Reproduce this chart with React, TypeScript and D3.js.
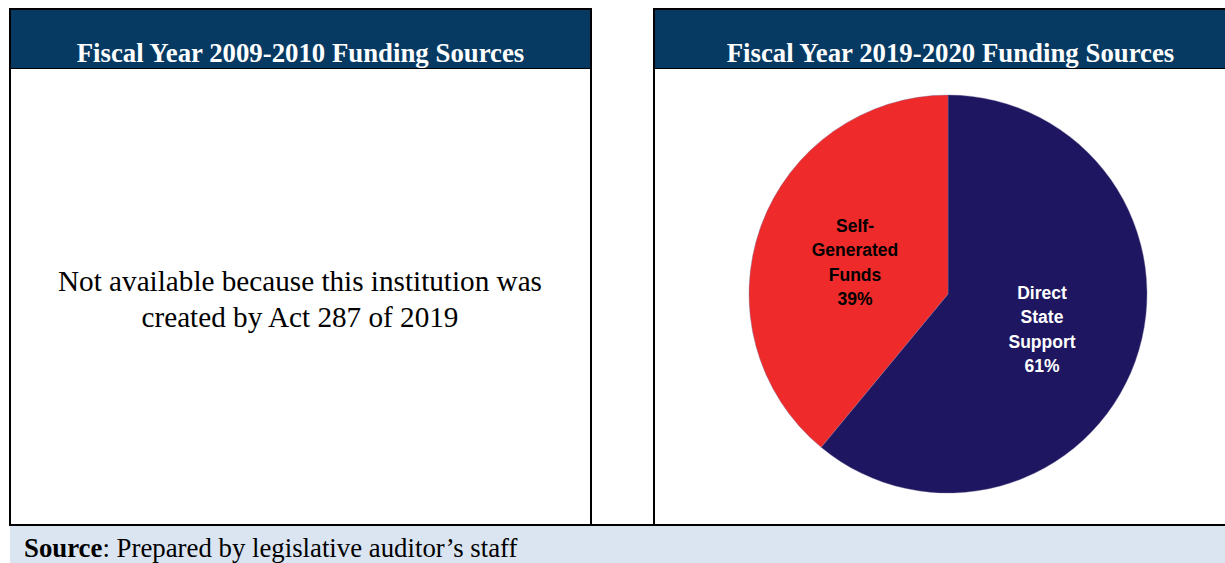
import React from "react";
import * as d3 from "d3";

const titles = ["Fiscal Year 2009-2010 Funding Sources", "Fiscal Year 2019-2020 Funding Sources"];
const unavailableLines = ["Not available because this institution was", "created by Act 287 of 2019"];
const categories = ["Direct State Support", "Self-Generated Funds"];
const values = [61, 39];
const labelLines = [["Direct", "State", "Support", "61%"], ["Self-", "Generated", "Funds", "39%"]];
const sliceColors = ["#1E1660", "#EE2A2A"];
const labelColors = ["#FFFFFF", "#000000"];

export default function App() {
  const W = 1225, H = 563;
  const cx = 948, cy = 294, r = 199;
  const pie = d3.pie<number>().sort(null).value((d) => d)(values);
  const arc = d3.arc<d3.PieArcDatum<number>>().innerRadius(0).outerRadius(r);
  const labelPos = [[1042, 292], [855, 225]];
  const serif = "'Liberation Serif', 'Times New Roman', serif";
  return (
    <svg width={W} height={H} style={{ position: "absolute", left: 0, top: 0 }}>
      <rect x={0} y={0} width={W} height={H} fill="#fff" />
      {/* source band */}
      <rect x={10} y={525} width={W - 10} height={H - 525} fill="#DBE5F1" />
      {/* header bands */}
      <rect x={10} y={9} width={581} height={59} fill="#063A63" />
      <rect x={654} y={9} width={W - 654} height={59} fill="#063A63" />
      {/* borders */}
      <line x1={9} y1={9} x2={591} y2={9} stroke="#000" strokeWidth={2} />
      <line x1={653} y1={9} x2={W} y2={9} stroke="#000" strokeWidth={2} />
      <line x1={10} y1={8} x2={10} y2={526} stroke="#000" strokeWidth={2} />
      <line x1={591} y1={8} x2={591} y2={526} stroke="#000" strokeWidth={2} />
      <line x1={654} y1={8} x2={654} y2={526} stroke="#000" strokeWidth={2} />
      <line x1={10} y1={68.5} x2={591} y2={68.5} stroke="#000" strokeWidth={1} />
      <line x1={654} y1={68.5} x2={W} y2={68.5} stroke="#000" strokeWidth={1} />
      <line x1={9} y1={525} x2={W} y2={525} stroke="#000" strokeWidth={2} />
      {/* titles */}
      {titles.map((t, i) => (
        <text key={t} x={i === 0 ? 300.5 : 950.5} y={62} textAnchor="middle" fill="#fff"
          fontFamily={serif} fontWeight="bold" fontSize={26.8}>{t}</text>
      ))}
      {/* unavailable text */}
      {unavailableLines.map((t, i) => (
        <text key={t} x={300} y={291 + i * 36} textAnchor="middle" fill="#000"
          fontFamily={serif} fontSize={29.2}>{t}</text>
      ))}
      {/* pie */}
      <g transform={`translate(${cx},${cy})`}>
        {pie.map((p, i) => (
          <path key={categories[i]} d={arc(p) || ""} fill={sliceColors[i]} stroke="#7a6f9a" strokeWidth={0.4} />
        ))}
      </g>
      {labelLines.map((lines, i) => (
        <text key={categories[i]} textAnchor="middle" fill={labelColors[i]}
          fontFamily="'Liberation Sans', Arial, sans-serif" fontWeight="bold" fontSize={17.5}>
          {lines.map((l, j) => (
            <tspan key={j} x={labelPos[i][0]} y={labelPos[i][1] + 6.5 + j * 24.5}>{l}</tspan>
          ))}
        </text>
      ))}
      {/* source */}
      <text x={24} y={557} fill="#000" fontFamily={serif} fontSize={26.8}>
        <tspan fontWeight="bold">Source</tspan>: Prepared by legislative auditor’s staff
      </text>
    </svg>
  );
}
